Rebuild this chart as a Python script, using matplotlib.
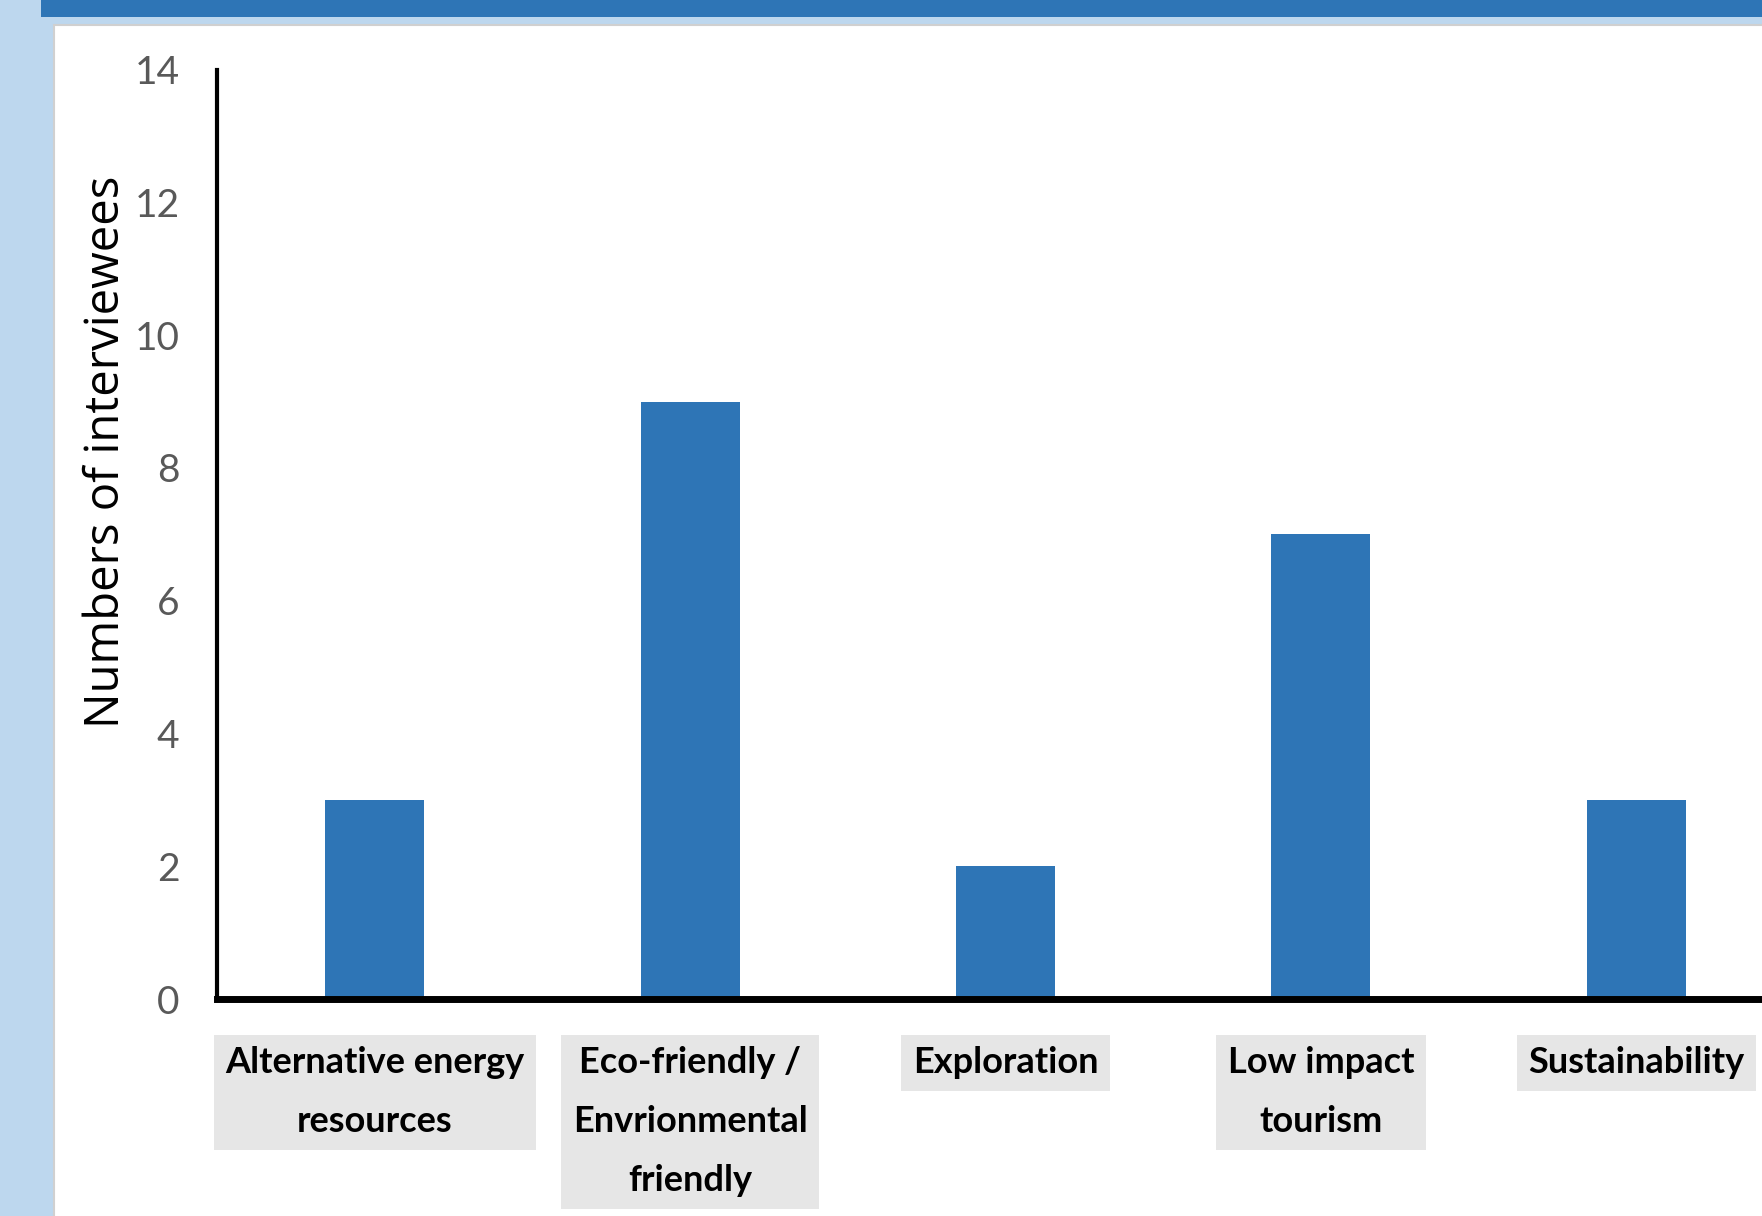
import matplotlib
matplotlib.use("Agg")
import matplotlib.pyplot as plt
from matplotlib import font_manager
from matplotlib.patches import Rectangle

categories = [
    "Alternative energy\nresources",
    "Eco-friendly /\nEnvrionmental\nfriendly",
    "Exploration",
    "Low impact\ntourism",
    "Sustainability",
]
interviewees = [3, 9, 2, 7, 3]
y_ticks = [0, 2, 4, 6, 8, 10, 12, 14]

installed = {f.name for f in font_manager.fontManager.ttflist}
narrow = "Liberation Sans Narrow" if "Liberation Sans Narrow" in installed else "Lato"
label_font = "Open Sans" if "Open Sans" in installed else "DejaVu Sans"

W, H = 1762, 1216
fig = plt.figure(figsize=(W / 100, H / 100), dpi=100, facecolor="#BDD7EE")

# slide frame: dark header strip and white content panel
fig.add_artist(Rectangle((41 / W, 1 - 17 / H), 1, 17 / H, transform=fig.transFigure,
                         facecolor="#2E75B6", edgecolor="none", zorder=-2))
fig.add_artist(Rectangle((54 / W, -0.01), 1, 1 - 25 / H + 0.01, transform=fig.transFigure,
                         facecolor="white", edgecolor="#D0D0D0", linewidth=1.5, zorder=-1))

left, right = 217 / W, 1794 / W
bottom, top = 1 - 999 / H, 1 - 69.7 / H
ax = fig.add_axes([left, bottom, right - left, top - bottom])
ax.patch.set_visible(False)

x = list(range(len(categories)))
ax.bar(x, interviewees, width=0.314, color="#2E75B6", zorder=2)
ax.set_xlim(-0.5, 4.5)
ax.set_ylim(0, 14)
ax.set_yticks(y_ticks)
ax.set_xticks(x, categories)

for side in ["top", "right"]:
    ax.spines[side].set_visible(False)
ax.spines["left"].set_linewidth(3)
ax.spines["bottom"].set_linewidth(5)

ax.tick_params(axis="y", length=0, pad=27, labelsize=28, labelcolor="#595959")
ax.tick_params(axis="x", length=0, pad=34)
for lbl in ax.get_yticklabels():
    lbl.set_family(narrow)
for lbl in ax.get_xticklabels():
    lbl.set_family(narrow)
    lbl.set_fontsize(26)
    lbl.set_fontweight("bold")
    lbl.set_linespacing(1.96)
    lbl.set_bbox(dict(boxstyle="square,pad=0.32", facecolor="#E6E6E6", edgecolor="none"))

fig.text(106 / W, 1 - 452 / H, "Numbers of interviewees", rotation=90,
         ha="center", va="center", fontsize=34, family=label_font, color="black")

fig.savefig("out.png", dpi=100)
